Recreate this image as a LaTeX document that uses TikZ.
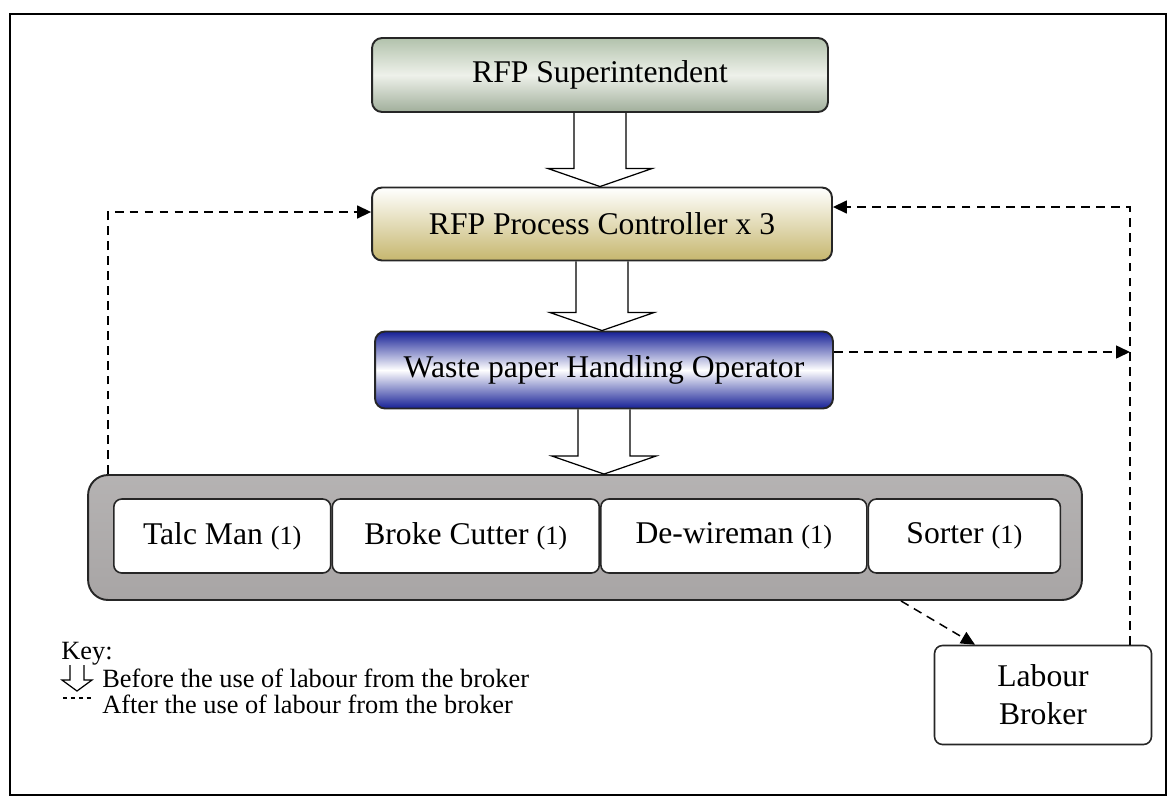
\documentclass[tikz,border=0pt]{standalone}
\usepackage{fontspec}
\setmainfont{Liberation Serif}
\usepackage{tikz}
\usetikzlibrary{arrows.meta,shapes,positioning,calc}

\definecolor{supgreen}{RGB}{178,194,172}
\definecolor{suplight}{RGB}{238,241,234}
\definecolor{ctrlkhaki}{RGB}{198,182,110}
\definecolor{wasteblue}{RGB}{22,32,150}
\definecolor{staffgrey}{RGB}{168,165,165}

\tikzset{
  role/.style={draw=black!85, line width=1.1pt, rounded corners=0.2cm, align=center,
    font=\fontsize{18}{21.6}\selectfont, inner sep=0pt},
  post/.style={draw=black!85, line width=0.9pt, rounded corners=0.16cm, fill=white,
    align=center, font=\fontsize{18}{21.6}\selectfont, minimum height=1.48cm, inner sep=0pt},
  afterline/.style={dash pattern=on 5pt off 3.5pt, line width=0.85pt,
    -{Triangle[length=0.28cm,width=0.26cm]}},
  hollow/.style={draw=black, line width=0.7pt},
  keytext/.style={font=\fontsize{15}{18}\selectfont, inner sep=0pt},
}
\newcommand{\cnt}[1]{{\fontsize{15}{18}\selectfont(#1)}}
\newcommand{\blockarrow}[2]{%
  \coordinate (tip) at (#1.south |- #2.north);
  \draw[hollow] ($(#1.south)+(-26,0)$) -- ($(tip)+(-26,-18)$) -- ($(tip)+(-52,-18)$)
    -- (tip) -- ($(tip)+(52,-18)$) -- ($(tip)+(26,-18)$) -- ($(#1.south)+(26,0)$);
}

\begin{document}
\begin{tikzpicture}[x=0.02cm, y=-0.02cm]
  \useasboundingbox (0,0) rectangle (1175,798);
  \draw[line width=1.1pt] (10,14) rectangle (1166,795);

  % chain of command
  \node[role, top color=supgreen, bottom color=supgreen!90!black, middle color=suplight,
    minimum width=9.12cm, minimum height=1.48cm] (sup) at (600,75) {RFP Superintendent};
  \node[role, top color=white, bottom color=ctrlkhaki,
    minimum width=9.2cm, minimum height=1.46cm] (ctrl) at (602,224) {RFP Process Controller x 3};
  \node[role, top color=wasteblue, bottom color=wasteblue, middle color=white,
    minimum width=9.16cm, minimum height=1.54cm] (waste) at (604,370) {Waste paper Handling Operator};

  % the staff under the operator
  \node[role, top color=staffgrey!85, bottom color=staffgrey, rounded corners=0.4cm,
    minimum width=19.88cm, minimum height=2.5cm] (staff) at (585,537.5) {};
  \node[post, minimum width=4.34cm, anchor=west] (talc) at (113,536) {Talc Man \cnt{1}};
  \node[post, minimum width=5.34cm, right=0pt of talc] (broke) {Broke Cutter \cnt{1}};
  \node[post, minimum width=5.32cm, right=0pt of broke] (dewire) {De-wireman \cnt{1}};
  \node[post, minimum width=3.84cm, right=0pt of dewire] (sorter) {Sorter \cnt{1}};

  \node[post, minimum width=4.34cm, minimum height=1.98cm] (labour) at (1043,695) {Labour\\Broker};

  \blockarrow{sup}{ctrl}
  \blockarrow{ctrl}{waste}
  \blockarrow{waste}{staff}

  % after the broker
  \coordinate (lbend) at (108,212);
  \coordinate (rbend) at (1130,207);
  \coordinate (wout) at ($(waste.east)+(0,-18)$);
  \draw[afterline] (lbend |- staff.north) -- (lbend) -- (lbend -| ctrl.west);
  \draw[afterline] (rbend |- labour.north) -- (rbend) -- (rbend -| ctrl.east);
  \draw[afterline] (wout) -- (wout -| rbend);
  \draw[afterline] ($(staff.south)+(316,0)$) -- ($(labour.north)+(-68,0)$);

  % key
  \node[keytext, anchor=west] (key) at (61,654) {Key:};
  \draw[hollow] (70,665) -- (70,680) -- (62,680) -- (77,691) -- (92,680) -- (84,680) -- (84,665);
  \node[keytext, anchor=west] (before) at (102,678) {Before the use of labour from the broker};
  \draw[dash pattern=on 2.5pt off 2pt, line width=0.6pt] (63,698) -- (93,698);
  \node[keytext, anchor=west] (afterkey) at (102,704) {After the use of labour from the broker};
\end{tikzpicture}
\end{document}
